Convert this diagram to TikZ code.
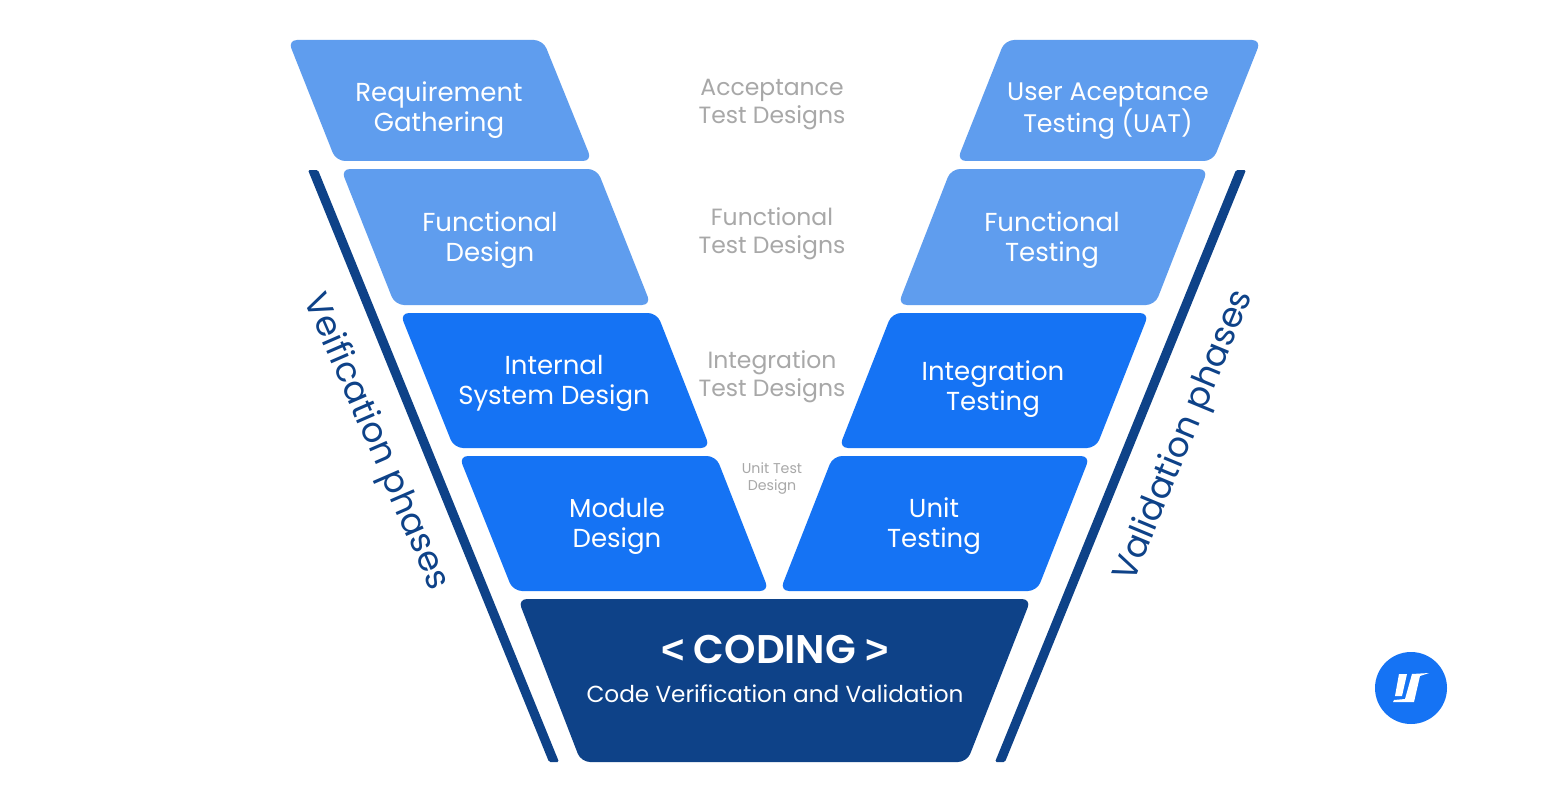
\documentclass[tikz,border=0pt]{standalone}
\usepackage{fontspec}
\setmainfont{Poppins}
\newfontfamily\cdfont{Poppins SemiBold}
\newfontfamily\ltfont{Liberation Sans}
\definecolor{lightb}{HTML}{5F9DEE}
\definecolor{midb}{HTML}{1573F4}
\definecolor{darkb}{HTML}{0E4288}
\definecolor{graytx}{HTML}{A8A8A8}
\tikzset{
  x=1pt,y=-1pt,
  panel/.style={rounded corners=9pt,draw=none},
  rail/.style={fill=darkb,draw=none,rounded corners=1.5pt},
  main/.style={text=white,align=center,font=\fontsize{26}{30}\selectfont,inner sep=0pt},
  midlabel/.style={text=graytx,align=center,font=\fontsize{23.5}{28}\selectfont,inner sep=0pt},
  side/.style={text=darkb,font=\fontsize{34.6}{40}\selectfont,inner sep=0pt},
}
\begin{document}
\begin{tikzpicture}
\useasboundingbox (0,0) rectangle (1550,797);
\fill[white] (0,0) rectangle (1550,797);
% rails
\fill[rail] (308,170) -- (318,170) -- (559,762) -- (549,762) -- cycle;
\fill[rail] (1236,170) -- (1246,170) -- (1005,762) -- (995,762) -- cycle;
% left panels
\fill[panel,lightb] (288,40) -- (543,40) -- (592,161) -- (336,161) -- cycle;
\fill[panel,lightb] (341,169) -- (597,169) -- (651,305) -- (395,305) -- cycle;
\fill[panel,midb] (400,313) -- (657,313) -- (710,448) -- (454,448) -- cycle;
\fill[panel,midb] (459,456) -- (716,456) -- (769,591) -- (513,591) -- cycle;
% right panels
\fill[panel,lightb] (1005,40) -- (1261,40) -- (1213,161) -- (957,161) -- cycle;
\fill[panel,lightb] (951,169) -- (1208,169) -- (1155,305) -- (898,305) -- cycle;
\fill[panel,midb] (892,313) -- (1149,313) -- (1096,448) -- (839,448) -- cycle;
\fill[panel,midb] (833,456) -- (1090,456) -- (1037,591) -- (780,591) -- cycle;
% coding
\fill[panel,darkb] (518,599) -- (1031,599) -- (967,762) -- (581,762) -- cycle;
% panel texts
\node[main] (req) at (439,110) {Requirement\\Gathering};
\node[main] (fd) at (490,240) {Functional\\Design};
\node[main] (isd) at (554,383) {Internal\\System Design};
\node[main] (md) at (617,526) {Module\\Design};
\node[main,font=\fontsize{25.4}{30}\selectfont] (uat) at (1108,111) {User Aceptance\\Testing (UAT)};
\node[main] (ft) at (1052,240) {Functional\\Testing};
\node[main] (it) at (993,389) {Integration\\Testing};
\node[main] (ut) at (934,526) {Unit\\Testing};
\node[text=white,font=\fontsize{40}{44}\selectfont\cdfont,inner sep=0pt] (cod) at (775,649) {{\ltfont\bfseries<} CODING {\ltfont\bfseries>}};
\node[text=white,font=\fontsize{23.2}{28}\selectfont,inner sep=0pt] (cvv) at (775,694) {Code Verification and Validation};
% middle labels
\node[midlabel] (a) at (772,105) {Acceptance\\Test Designs};
\node[midlabel] (b) at (772,234) {Functional\\Test Designs};
\node[midlabel] (c) at (772,377) {Integration\\Test Designs};
\node[text=graytx,align=center,font=\fontsize{14.2}{17}\selectfont,inner sep=0pt] (d) at (772,479) {Unit Test\\Design};
% side labels
\node[side,rotate=-66.5] (ver) at (375.5,442) {Veification phases};
\node[side,rotate=67.5] (val) at (1185,436) {Validation phases};
% logo
\node[circle,fill=midb,minimum size=72pt,inner sep=0pt] (logo) at (1411,688) {};
\fill[white] (1399,674) -- (1407,674) -- (1402,696) -- (1395,696) -- cycle;
\fill[white] (1412,674) -- (1429,673) -- (1420,676) -- (1414,702) -- (1393,702) -- (1394,700) -- (1405,699) -- cycle;
\end{tikzpicture}
\end{document}
